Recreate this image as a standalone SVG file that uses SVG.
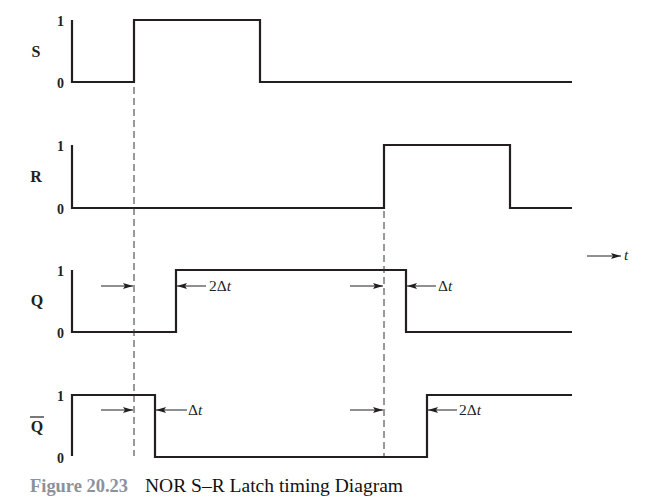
<svg xmlns="http://www.w3.org/2000/svg" width="647" height="504" viewBox="0 0 647 504">
<style>
.sig{fill:none;stroke:#231f20;stroke-width:2.2;stroke-linejoin:miter}
.dash{fill:none;stroke:#333;stroke-width:1;stroke-dasharray:7,4}
.arr{fill:none;stroke:#231f20;stroke-width:1}
.lvl{font-family:"Liberation Serif",serif;font-weight:bold;font-size:14px;fill:#231f20;text-anchor:end}
.nm{font-family:"Liberation Serif",serif;font-weight:bold;font-size:16px;fill:#231f20;text-anchor:middle}
.dt{font-family:"Liberation Serif",serif;font-size:15.5px;fill:#231f20}
.it{font-style:italic}
</style>
<defs>
<marker id="ah" viewBox="0 0 10 6" refX="10" refY="3" markerWidth="10" markerHeight="6" markerUnits="userSpaceOnUse" orient="auto">
<path d="M0,0 L10,3 L0,6 L2,3 Z" fill="#231f20"/>
</marker>
</defs>
<rect width="647" height="504" fill="#fff"/>

<g id="S">
<text class="lvl" x="64" y="26">1</text>
<text class="nm" x="36" y="57">S</text>
<text class="lvl" x="64" y="88">0</text>
<path class="sig" d="M72,20 V82 H134 V20 H260 V82 H572"/>
</g>

<g id="R">
<text class="lvl" x="64" y="151">1</text>
<text class="nm" x="36" y="182">R</text>
<text class="lvl" x="64" y="214">0</text>
<path class="sig" d="M72,145 V208 H384 V145 H510 V208 H572"/>
</g>

<g id="Q">
<text class="lvl" x="64" y="276">1</text>
<text class="nm" x="37" y="306">Q</text>
<text class="lvl" x="64" y="338">0</text>
<path class="sig" d="M72,270 V332 H176 V270 H406 V332 H572"/>
</g>

<g id="Qbar">
<text class="lvl" x="64" y="401">1</text>
<text class="nm" x="37" y="432">Q</text>
<line x1="30" y1="417" x2="44" y2="417" stroke="#231f20" stroke-width="1.2"/>
<text class="lvl" x="64" y="463">0</text>
<path class="sig" d="M72,456 V395 H155 V457 H427 V395 H572"/>
</g>

<g id="time-axis">
<line class="arr" x1="587" y1="256" x2="621" y2="256" stroke-width="1.5" marker-end="url(#ah)"/>
<text class="dt it" x="624" y="260">t</text>
</g>

<g id="connectors">
<line class="dash" x1="134" y1="87" x2="134" y2="456"/>
<line class="dash" x1="384" y1="211" x2="384" y2="456"/>
<line class="arr" x1="101" y1="286" x2="133" y2="286" marker-end="url(#ah)"/>
<line class="arr" x1="206" y1="286" x2="177" y2="286" marker-end="url(#ah)"/>
<line class="arr" x1="350" y1="286" x2="383" y2="286" marker-end="url(#ah)"/>
<line class="arr" x1="436" y1="286" x2="407" y2="286" marker-end="url(#ah)"/>
<line class="arr" x1="101" y1="410" x2="133" y2="410" marker-end="url(#ah)"/>
<line class="arr" x1="187" y1="410" x2="156" y2="410" marker-end="url(#ah)"/>
<line class="arr" x1="350" y1="410" x2="383" y2="410" marker-end="url(#ah)"/>
<line class="arr" x1="457" y1="410" x2="428" y2="410" marker-end="url(#ah)"/>
</g>

<g id="labels">
<text class="dt" x="209" y="291">2Δ<tspan class="it">t</tspan></text>
<text class="dt" x="438" y="291">Δ<tspan class="it">t</tspan></text>
<text class="dt" x="188" y="415">Δ<tspan class="it">t</tspan></text>
<text class="dt" x="459" y="415">2Δ<tspan class="it">t</tspan></text>
</g>

<g id="caption">
<text x="30" y="492" font-family="Liberation Serif,serif" font-weight="bold" font-size="18" fill="#8c919a" textLength="98" lengthAdjust="spacingAndGlyphs">Figure 20.23</text>
<text x="145" y="492" font-family="Liberation Serif,serif" font-size="19.5" fill="#111" textLength="258" lengthAdjust="spacingAndGlyphs">NOR S–R Latch timing Diagram</text>
</g>
</svg>
